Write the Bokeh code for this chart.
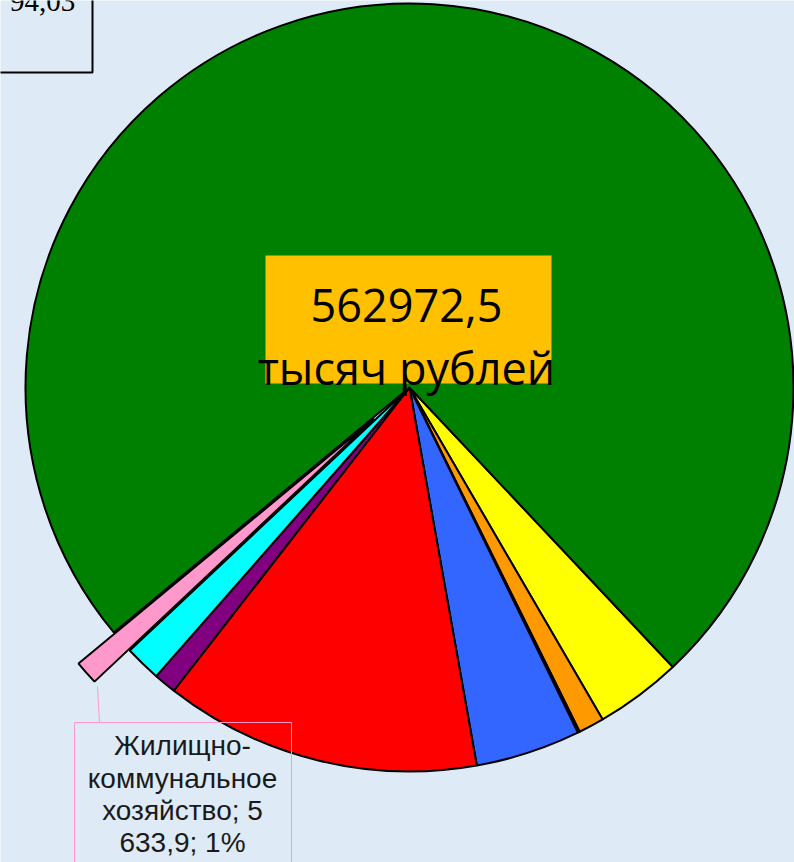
import numpy as np
from bokeh.plotting import figure
from bokeh.models import Range1d, ColumnDataSource
from bokeh.core.properties import value
from bokeh.embed import file_html
from bokeh.resources import INLINE

# ---- data (thousand rubles), clockwise from the yellow slice ----
categories = ["Общегосударственные вопросы", "Национальная экономика",
              "Национальная безопасность", "Социальная политика",
              "Культура", "Физическая культура и спорт",
              "Средства массовой информации", "Жилищно-коммунальное хозяйство",
              "Образование"]
values = [20486.3, 6099.0, 470.0, 24864.0, 75007.27, 5317.0, 8601.0, 5633.9, 416494.03]
colors = ["#FFFF00", "#FF9900", "#A6A6A6", "#3366FF", "#FF0000",
          "#800080", "#00FFFF", "#FF99CC", "#008000"]
explode = [0, 0, 0, 0, 0, 0, 0, 47, 0]

total_lines = ["562972,5", "тысяч рублей"]
label_lines = ["Жилищно-", "коммунальное", "хозяйство; 5", "633,9; 1%"]
partial_label = ["94,03"]

BG = "#DEEBF7"
W, H = 794, 862
CX, CY, R = 409, 862 - 387, 384
START_DEG = -46.7
DY = 10  # baseline correction for text rendering

vals = np.array(values, dtype=float)
frac = vals / vals.sum()
cum = np.concatenate([[0.0], np.cumsum(frac)[:-1]])
start = np.deg2rad(START_DEG) - cum * 2 * np.pi
end = start - frac * 2 * np.pi
mid = (start + end) / 2
ex = np.array(explode, dtype=float)
xs = CX + ex * np.cos(mid)
ys = CY + ex * np.sin(mid)

p = figure(width=W, height=H, x_range=Range1d(0, W), y_range=Range1d(0, H),
           output_backend="svg", toolbar_location=None, min_border=0,
           x_axis_type=None, y_axis_type=None,
           background_fill_color=BG, border_fill_color=BG, outline_line_color=None)
p.grid.visible = False

order_flat = [i for i in range(len(vals)) if ex[i] == 0]
order_ex = [i for i in range(len(vals)) if ex[i] != 0]
for idx in (order_flat, order_ex):
    src = ColumnDataSource(dict(x=xs[idx], y=ys[idx], start=start[idx], end=end[idx],
                                color=[colors[i] for i in idx],
                                name=[categories[i] for i in idx],
                                val=vals[idx]))
    p.wedge(x="x", y="y", radius=R, start_angle="start", end_angle="end",
            direction="clock", fill_color="color", line_color="black",
            line_width=2, source=src)

# centre total label
p.quad(left=265, right=551, bottom=862 - 383, top=862 - 255,
       fill_color="#FFC000", line_color=None)
p.text(x=[406, 406], y=[862 - 315 + DY, 862 - 377 + DY], text=total_lines,
       text_font=value("Open Sans"), text_font_size="45px",
       text_align="center", text_baseline="alphabetic", text_color="black")

# housing label with leader
p.segment(x0=[97], y0=[862 - 686], x1=[99], y1=[862 - 722],
          line_color="#FF99CC", line_width=1)
p.quad(left=74, right=291, bottom=-20, top=862 - 722,
       fill_alpha=0, line_color="#FF99CC", line_width=1)
p.text(x=[182] * 4,
       y=[862 - 755 + DY, 862 - 788 + DY, 862 - 820 + DY, 862 - 852 + DY],
       text=label_lines,
       text_font=value("Liberation Sans"), text_font_size="28px",
       text_align="center", text_baseline="alphabetic", text_color="#1a1a1a")

# partially visible label at top left
p.quad(left=-20, right=92, bottom=862 - 72, top=900,
       fill_alpha=0, line_color="black", line_width=2)
p.text(x=[42], y=[862 - 11 + DY], text=partial_label,
       text_font=value("Liberation Serif"), text_font_size="29px",
       text_align="center", text_baseline="alphabetic", text_color="black")

html = file_html(p, INLINE)
html = html.replace("<body>", '<body style="background-color:%s;">' % BG, 1)
open("out.html", "w").write(html)
